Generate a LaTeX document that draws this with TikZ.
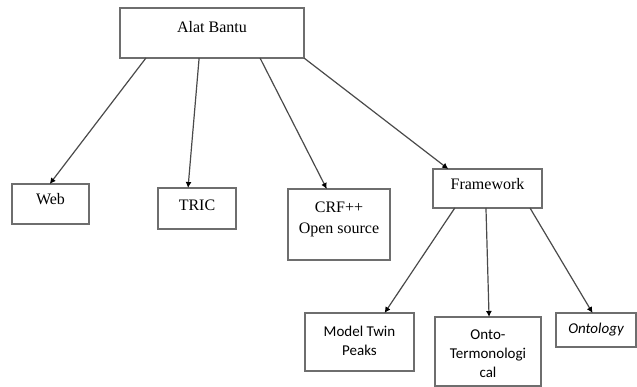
\documentclass[tikz,border=0pt]{standalone}
\usepackage{fontspec}
\setmainfont{Liberation Serif}
\newfontfamily\calfont{Carlito}
\usetikzlibrary{calc,arrows.meta}
\definecolor{boxc}{HTML}{6E6E6E}
\definecolor{linec}{HTML}{4A4A4A}
\newcommand\bxt[4]{\parbox[c][#2pt][t]{#1pt}{\centering\rule{0pt}{#3pt}#4}}
\tikzset{
  box/.style={draw=boxc, line width=1.3pt, rectangle, inner sep=0pt, outer sep=0pt, anchor=north west},
  serif/.style={font=\fontsize{16}{21}\selectfont},
  sans/.style={font=\calfont\fontsize{15}{19}\selectfont},
  conn/.style={draw=linec, line width=1.2pt, -{Latex[length=6pt,width=6pt,color=black]}},
}
\begin{document}
\begin{tikzpicture}[x=1pt,y=-1pt]
\useasboundingbox (0,0) rectangle (637,387);
\node[box,serif] (alat) at (120,8) {\bxt{184}{50}{25}{Alat Bantu}};
\node[box,serif] (web) at (12,184) {\bxt{77}{40}{21}{Web}};
\node[box,serif] (tric) at (158,188) {\bxt{78}{41}{23}{TRIC}};
\node[box,serif] (crf) at (288,189) {\bxt{102}{71}{24}{CRF++\\Open source}};
\node[box,serif] (frame) at (433,169) {\bxt{109}{39}{21}{Framework}};
\node[box,sans] (mtp) at (305,313) {\bxt{109}{58}{23}{Model Twin\\Peaks}};
\node[box,sans] (onto) at (435,317) {\bxt{106}{69}{22}{Onto-\\Termonologi\\cal}};
\node[box,sans] (ontology) at (556,313) {\bxt{80}{34}{20}{\itshape Ontology}};

\draw[conn] ($(alat.south west)!0.141!(alat.south east)$) -- ($(web.north west)!0.49!(web.north east)$);
\draw[conn] ($(alat.south west)!0.43!(alat.south east)$) -- ($(tric.north west)!0.385!(tric.north east)$);
\draw[conn] ($(alat.south west)!0.761!(alat.south east)$) -- ($(crf.north west)!0.38!(crf.north east)$);
\draw[conn] (alat.south east) -- ($(frame.north west)!0.14!(frame.north east)$);
\draw[conn] ($(frame.south west)!0.2!(frame.south east)$) -- ($(mtp.north west)!0.73!(mtp.north east)$);
\draw[conn] ($(frame.south west)!0.486!(frame.south east)$) -- ($(onto.north west)!0.51!(onto.north east)$);
\draw[conn] ($(frame.south west)!0.89!(frame.south east)$) -- ($(ontology.north west)!0.457!(ontology.north east)$);
\end{tikzpicture}
\end{document}
